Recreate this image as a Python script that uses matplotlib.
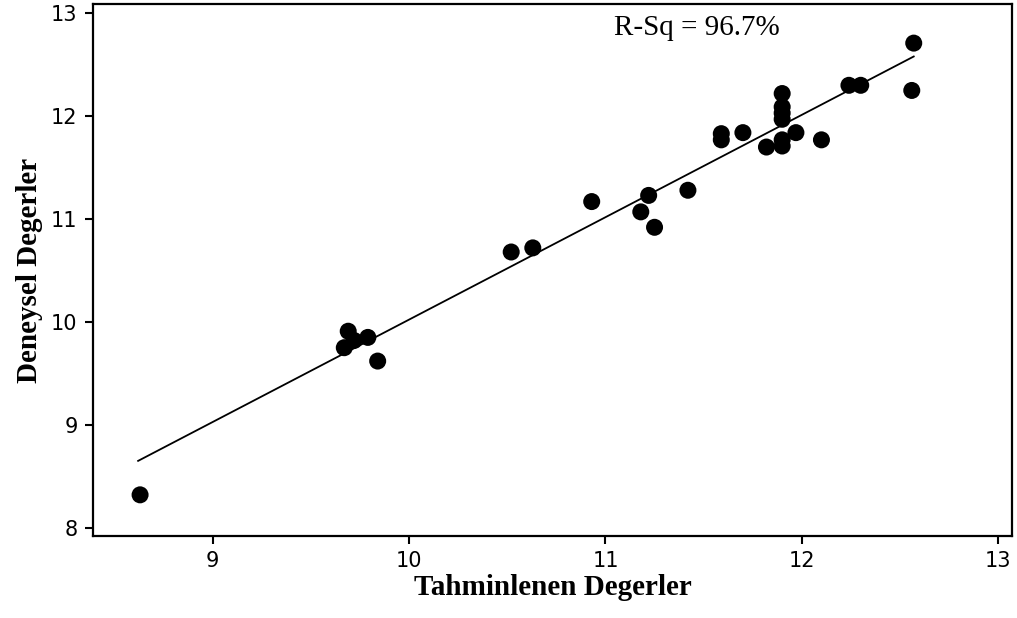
import matplotlib
matplotlib.use("Agg")
import matplotlib.pyplot as plt
import numpy as np

tahmin = [8.63,
          9.69, 9.67, 9.72, 9.79, 9.84,
          10.52, 10.63,
          10.93, 11.18, 11.22, 11.25, 11.42,
          11.59, 11.59, 11.70, 11.82,
          11.90, 11.90, 11.90, 11.90, 11.90, 11.90,
          11.97, 12.10, 12.24, 12.30, 12.56, 12.57]
deney = [8.32,
         9.91, 9.75, 9.82, 9.85, 9.62,
         10.68, 10.72,
         11.17, 11.07, 11.23, 10.92, 11.28,
         11.83, 11.77, 11.84, 11.70,
         12.22, 12.09, 12.03, 11.97, 11.77, 11.71,
         11.84, 11.77, 12.30, 12.30, 12.25, 12.71]

# fitted line end points
fit_x = [8.62, 12.57]
fit_y = [8.65, 12.58]

x_ticks = [9, 10, 11, 12, 13]
y_ticks = [8, 9, 10, 11, 12, 13]
rsq_text = "R-Sq = 96.7%"

fig = plt.figure(figsize=(10.17, 6.18), dpi=100)
ax = fig.add_axes([0.0914, 0.1327, 0.9036, 0.8608])

ax.plot(fit_x, fit_y, color="black", lw=1.3, zorder=2)
ax.scatter(tahmin, deney, s=150, color="black", edgecolors="none", zorder=3)

ax.set_xlim(8.39, 13.07)
ax.set_ylim(7.92, 13.09)
ax.set_xticks(x_ticks)
ax.set_yticks(y_ticks)
ax.tick_params(axis="both", direction="out", length=6, width=1.5,
               labelsize=15, pad=5)
for s in ax.spines.values():
    s.set_linewidth(1.6)

ax.set_xlabel("Tahminlenen Degerler", fontsize=21, fontweight="bold",
              family="Liberation Serif", labelpad=2)
ax.set_ylabel("Deneysel Degerler", fontsize=21, fontweight="bold",
              family="Liberation Serif", labelpad=6)

ax.text(0.567, 0.955, rsq_text, transform=ax.transAxes, fontsize=21,
        family="Liberation Serif", ha="left", va="center")

fig.savefig("out.png", dpi=100)
